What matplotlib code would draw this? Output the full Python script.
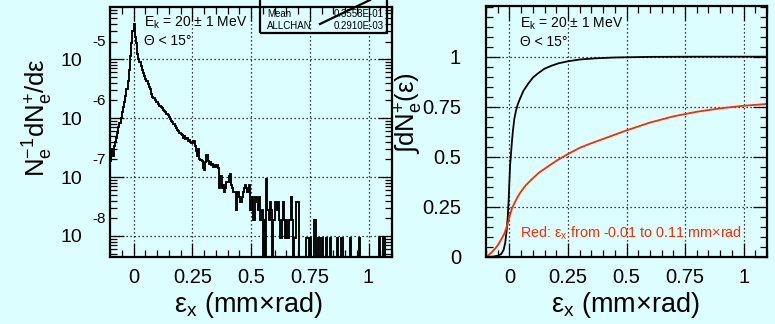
import numpy as np
import matplotlib
matplotlib.use("Agg")
import matplotlib.pyplot as plt
from matplotlib.ticker import LogLocator, NullFormatter, MultipleLocator, FixedLocator
from matplotlib.patches import Rectangle
from matplotlib.lines import Line2D

plt.rcParams['font.family'] = ['Liberation Sans', 'DejaVu Sans']
plt.rcParams['mathtext.fontset'] = 'custom'
plt.rcParams['mathtext.rm'] = 'Liberation Sans'
plt.rcParams['mathtext.it'] = 'Liberation Sans:italic'
plt.rcParams['mathtext.bf'] = 'Liberation Sans:bold'

# ---------------- data ----------------
# left: histogram of counts, bins of width 0.005 from -0.1 to 1.1
bin_lo = -0.1
bin_hi = 1.1
counts = [
    20, 32, 24, 36, 42, 50, 60, 75, 90, 110,
    135, 165, 200, 260, 340, 450, 700, 1200, 2000, 3300,
    4300, 2600, 2000, 1300, 1100, 950, 820, 700, 620, 560,
    500, 450, 410, 370, 330, 280, 250, 235, 220, 205,
    200, 185, 175, 165, 158, 150, 140, 135, 128, 122,
    112, 105, 97, 92, 86, 78, 72, 68, 64, 60,
    58, 56, 50, 54, 47, 50, 44, 46, 42, 40,
    41, 44, 36, 30, 24, 32, 22, 21, 20, 15,
    14, 19, 25, 20, 18, 19, 17, 18, 16, 17,
    16, 17, 15, 7, 11, 7, 8, 6, 7, 9,
    9, 11, 12, 8, 7, 6, 6, 3, 6, 6,
    5, 4, 5, 6, 7, 8, 7, 6, 8, 3,
    3, 5, 2, 5, 5, 4, 3, 5, 2, 3,
    0, 2, 0, 10, 3, 2, 4, 3, 0, 2,
    4, 4, 3, 4, 2, 1, 2, 4, 2, 1,
    2, 1, 2, 2, 5, 2, 0, 1, 4, 4,
    4, 0, 0, 0, 0, 0, 0, 1, 1, 0,
    1, 0, 0, 0, 2, 0, 0, 1, 1, 0,
    1, 0, 0, 0, 1, 0, 0, 1, 0, 0,
    0, 0, 0, 1, 0, 0, 0, 1, 0, 0,
    0, 0, 0, 0, 1, 0, 0, 0, 0, 0,
    0, 0, 1, 0, 0, 0, 0, 0, 0, 0,
    0, 0, 0, 0, 0, 0, 0, 0, 0, 1,
    0, 0, 1, 1, 0, 0, 0, 0, 0, 0,
]
count_unit = 9.33e-9   # N^-1 dN/de for one entry

# right: cumulative distributions
black_x = [-0.1, -0.07, -0.05, -0.035, -0.025, -0.018, -0.012, -0.007, -0.003, 0.0,
           0.003, 0.007, 0.011, 0.015, 0.021, 0.028, 0.035, 0.045, 0.06, 0.08,
           0.1, 0.12, 0.15, 0.18, 0.21, 0.25, 0.3, 0.37, 0.45, 0.6, 0.8, 1.1]
black_y = [0.0, 0.002, 0.006, 0.015, 0.035, 0.07, 0.13, 0.2, 0.29, 0.38,
           0.46, 0.52, 0.58, 0.63, 0.69, 0.73, 0.76, 0.79, 0.83, 0.865,
           0.895, 0.915, 0.94, 0.955, 0.967, 0.977, 0.986, 0.992, 0.996, 0.999, 1.0, 1.0]
red_x = [-0.1, -0.09, -0.077, -0.06, -0.048, -0.035, -0.021, -0.01, 0.0, 0.01,
         0.021, 0.035, 0.049, 0.07, 0.092, 0.125, 0.162, 0.2, 0.247, 0.3,
         0.35, 0.416, 0.5, 0.6, 0.7, 0.8, 0.9, 1.0, 1.1]
red_y = [0.0, 0.008, 0.022, 0.043, 0.062, 0.088, 0.118, 0.155, 0.2, 0.24,
         0.268, 0.3, 0.326, 0.358, 0.384, 0.42, 0.45, 0.48, 0.512, 0.545,
         0.568, 0.596, 0.632, 0.671, 0.702, 0.725, 0.742, 0.755, 0.764]

x_ticks = [0, 0.25, 0.5, 0.75, 1]
x_ticklabels = ['0', '0.25', '0.5', '0.75', '1']
ly_ticks = [1e-8, 1e-7, 1e-6, 1e-5]
ly_exps = ['-8', '-7', '-6', '-5']
ry_ticks = [0, 0.25, 0.5, 0.75, 1]
ry_ticklabels = ['0', '0.25', '0.5', '0.75', '1']

stat_names = ['Mean', 'ALLCHAN']
stat_vals = ['0.3558E-01', '0.2910E-03']

BG = '#dcfeff'
RED = '#ff2a00'
W, H = 775, 324

fig = plt.figure(figsize=(W / 100, H / 100), dpi=100, facecolor=BG)

def fx(px):
    return px / W

def fy(py):
    return 1 - py / H

ax1 = fig.add_axes([fx(110), fy(257), (392 - 110) / W, (257 - 7) / H])
ax2 = fig.add_axes([fx(486), fy(257), (767 - 486) / W, (257 - 6) / H])

for ax in (ax1, ax2):
    ax.set_facecolor(BG)
    for s in ax.spines.values():
        s.set_linewidth(1.6)
        s.set_zorder(5)
    ax.tick_params(which='both', direction='in', top=True, right=True, width=0.9,
                   labelsize=14.5, colors='black')
    ax.tick_params(which='major', length=10)
    ax.tick_params(which='minor', length=5)
    ax.tick_params(axis='x', pad=8)
    ax.grid(True, which='major', linestyle=(0, (1, 2.2)), color='black', linewidth=0.9)
    ax.set_xlim(-0.1, 1.1)
    ax.set_xticks(x_ticks)
    ax.set_xticklabels(x_ticklabels)
    ax.xaxis.set_minor_locator(MultipleLocator(0.05))

# ---------------- left ----------------
edges = np.linspace(bin_lo, bin_hi, len(counts) + 1)
vals = np.array(counts, dtype=float)
vals = np.where(vals > 0, vals, 1e-4) * count_unit
ax1.stairs(vals, edges, color='black', linewidth=1.35, baseline=None)
ax1.set_yscale('log')
ax1.set_ylim(10 ** -8.357, 10 ** -4.112)
ax1.yaxis.set_major_locator(FixedLocator(ly_ticks))
ax1.set_yticklabels(['10'] * len(ly_ticks))
ax1.yaxis.set_minor_locator(LogLocator(base=10, subs=np.arange(2, 10), numticks=20))
ax1.yaxis.set_minor_formatter(NullFormatter())
ax1.tick_params(axis='y', pad=20, labelsize=14)
for t, e in zip(ly_ticks, ly_exps):
    ax1.annotate(e, xy=(0, t), xycoords=('axes fraction', 'data'),
                 xytext=(-18 * 0.72, 17 * 0.72), textcoords='offset points',
                 ha='left', va='center', fontsize=11)

ax1.text((144 - 110) / 282, (257 - 23) / 250, r'E$_\mathrm{k}$ = 20 ± 1 MeV',
         transform=ax1.transAxes, fontsize=10, va='center', ha='left')
ax1.text((144 - 110) / 282, (257 - 41) / 250, 'Θ < 15°',
         transform=ax1.transAxes, fontsize=10, va='center', ha='left')

# stats box (clipped at top of the canvas)
fig.add_artist(Rectangle((fx(260), fy(33)), (387 - 260) / W, 40 / H, fill=False,
                         edgecolor='black', linewidth=1.6, transform=fig.transFigure, zorder=6))
for i, (n, v) in enumerate(zip(stat_names, stat_vals)):
    yy = fy(14 + 12 * i)
    fig.text(fx(267), yy, n, fontsize=7, va='center', ha='left')
    fig.text(fx(384), yy, v, fontsize=7, va='center', ha='right')
fig.add_artist(Line2D([fx(320), fx(370)], [fy(24), fy(0)], color='black',
                      linewidth=1.6, transform=fig.transFigure, zorder=7))

# ---------------- right ----------------
ax2.plot(black_x, black_y, color='black', linewidth=1.3, zorder=3)
ax2.plot(red_x, red_y, color=RED, linewidth=1.3, zorder=3)
ax2.plot([red_x[-1], red_x[-1]], [red_y[-1], 0], color=RED, linewidth=1.3, zorder=3)
ax2.set_ylim(0, 1.253)
ax2.set_yticks(ry_ticks)
ax2.set_yticklabels(ry_ticklabels)
ax2.yaxis.set_minor_locator(MultipleLocator(0.05))
ax2.tick_params(axis='y', pad=18)

ax2.text((520 - 486) / 281, (257 - 24) / 251, r'E$_\mathrm{k}$ = 20 ± 1 MeV',
         transform=ax2.transAxes, fontsize=10, va='center', ha='left')
ax2.text((520 - 486) / 281, (257 - 42) / 251, 'Θ < 15°',
         transform=ax2.transAxes, fontsize=10, va='center', ha='left')
ax2.text((520 - 486) / 281, (257 - 233.5) / 251,
         r'Red: ε$_\mathrm{x}$ from -0.01 to 0.11 mm×rad',
         transform=ax2.transAxes, fontsize=10.4, va='center', ha='left', color=RED)

# axis titles
fig.text(fx(248), fy(305), r'ε$_\mathrm{x}$ (mm×rad)', fontsize=19.5, ha='center', va='center')
fig.text(fx(625), fy(305), r'ε$_\mathrm{x}$ (mm×rad)', fontsize=19.5, ha='center', va='center')
fig.text(fx(38), fy(118), r'N$_\mathrm{e}^\mathrm{-1}$dN$_\mathrm{e}^\mathrm{+}$/dε',
         fontsize=18.5, rotation=90, ha='center', va='center')
fig.text(fx(409), fy(113), r'$\int$dN$_\mathrm{e}^\mathrm{+}$(ε)',
         fontsize=18.5, rotation=90, ha='center', va='center')

fig.savefig('out.png', dpi=100, facecolor=BG)
